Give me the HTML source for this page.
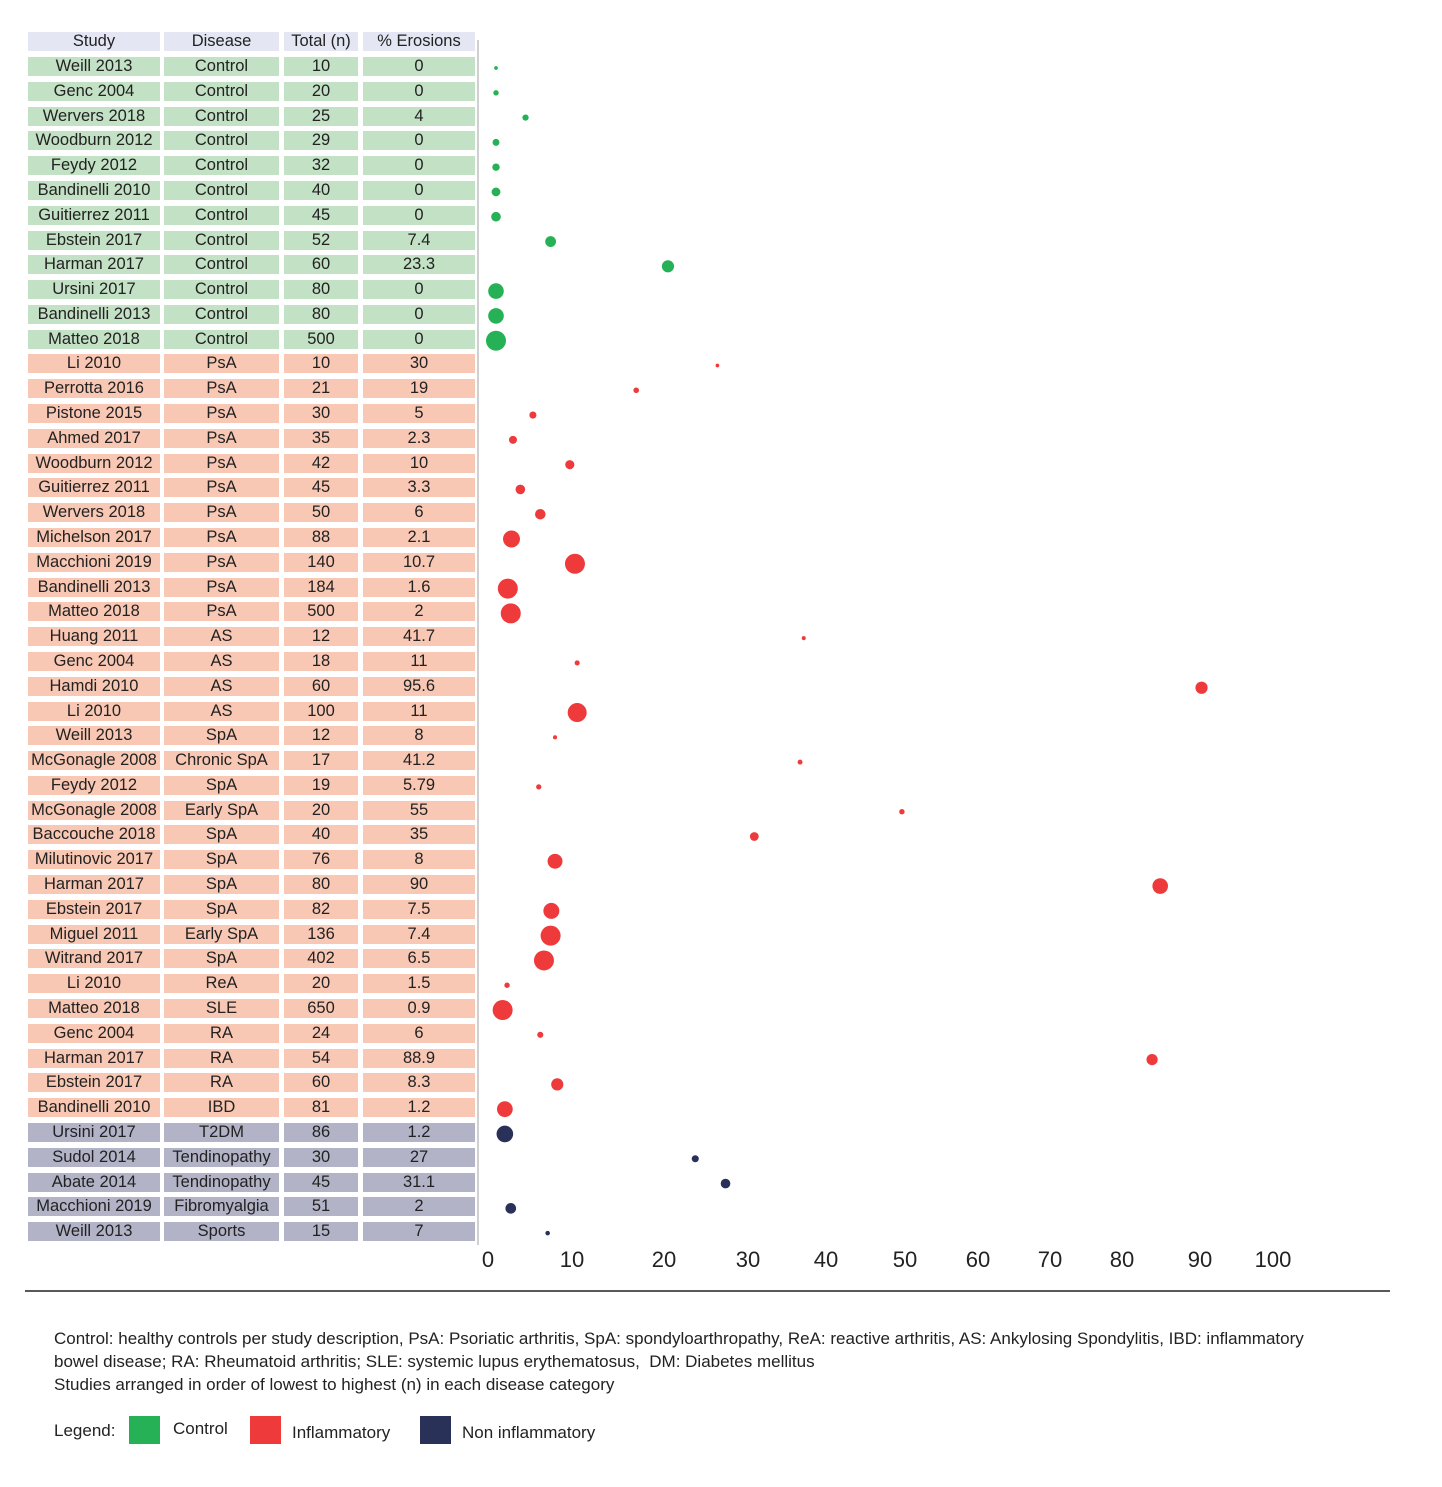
<!DOCTYPE html>
<html><head><meta charset="utf-8"><style>
body{margin:0;background:#fff;font-family:"Liberation Sans",sans-serif;}
#wrap{position:relative;width:1442px;height:1487px;overflow:hidden;}
.cell{position:absolute;height:19px;line-height:19px;text-align:center;font-size:16.5px;color:#222;white-space:nowrap;overflow:hidden;}
.tick{position:absolute;top:1247px;font-size:22px;color:#222;transform:translateX(-50%);}
.note{position:absolute;left:54px;font-size:17px;color:#222;}
</style></head><body>
<div id="wrap">
<svg id="plot" width="1442" height="1487" style="position:absolute;left:0;top:0">
<line x1="478" y1="40" x2="478" y2="1245" stroke="#d0d0d0" stroke-width="2"/>
<line x1="25" y1="1291" x2="1390" y2="1291" stroke="#222" stroke-width="1.5"/>
</svg>
<div class="note" style="top:1327px;width:1280px;line-height:23px">Control: healthy controls per study description, PsA: Psoriatic arthritis, SpA: spondyloarthropathy, ReA: reactive arthritis, AS: Ankylosing Spondylitis, IBD: inflammatory bowel disease; RA: Rheumatoid arthritis; SLE: systemic lupus erythematosus,&nbsp; DM: Diabetes mellitus<br>Studies arranged in order of lowest to highest (n) in each disease category</div>
<div>
<div class="note" style="top:1421px">Legend:</div>
<div style="position:absolute;left:129px;top:1416px;width:31px;height:28px;background:#27b156"></div>
<div class="note" style="left:173px;top:1419px">Control</div>
<div style="position:absolute;left:250px;top:1416px;width:31px;height:28px;background:#ee3a3a"></div>
<div class="note" style="left:292px;top:1423px">Inflammatory</div>
<div style="position:absolute;left:420px;top:1416px;width:31px;height:28px;background:#2a3158"></div>
<div class="note" style="left:462px;top:1423px">Non inflammatory</div>
</div>
</div>
<script>
const studies=["Weill 2013","Genc 2004","Wervers 2018","Woodburn 2012","Feydy 2012","Bandinelli 2010","Guitierrez 2011","Ebstein 2017","Harman 2017","Ursini 2017","Bandinelli 2013","Matteo 2018","Li 2010","Perrotta 2016","Pistone 2015","Ahmed 2017","Woodburn 2012","Guitierrez 2011","Wervers 2018","Michelson 2017","Macchioni 2019","Bandinelli 2013","Matteo 2018","Huang 2011","Genc 2004","Hamdi 2010","Li 2010","Weill 2013","McGonagle 2008","Feydy 2012","McGonagle 2008","Baccouche 2018","Milutinovic 2017","Harman 2017","Ebstein 2017","Miguel 2011","Witrand 2017","Li 2010","Matteo 2018","Genc 2004","Harman 2017","Ebstein 2017","Bandinelli 2010","Ursini 2017","Sudol 2014","Abate 2014","Macchioni 2019","Weill 2013"];
const diseases=["Control","Control","Control","Control","Control","Control","Control","Control","Control","Control","Control","Control","PsA","PsA","PsA","PsA","PsA","PsA","PsA","PsA","PsA","PsA","PsA","AS","AS","AS","AS","SpA","Chronic SpA","SpA","Early SpA","SpA","SpA","SpA","SpA","Early SpA","SpA","ReA","SLE","RA","RA","RA","IBD","T2DM","Tendinopathy","Tendinopathy","Fibromyalgia","Sports"];
const totals=[10,20,25,29,32,40,45,52,60,80,80,500,10,21,30,35,42,45,50,88,140,184,500,12,18,60,100,12,17,19,20,40,76,80,82,136,402,20,650,24,54,60,81,86,30,45,51,15];
const erosionLabels=["0","0","4","0","0","0","0","7.4","23.3","0","0","0","30","19","5","2.3","10","3.3","6","2.1","10.7","1.6","2","41.7","11","95.6","11","8","41.2","5.79","55","35","8","90","7.5","7.4","6.5","1.5","0.9","6","88.9","8.3","1.2","1.2","27","31.1","2","7"];
const erosions=erosionLabels.map(Number);
const groups=["C","C","C","C","C","C","C","C","C","C","C","C","I","I","I","I","I","I","I","I","I","I","I","I","I","I","I","I","I","I","I","I","I","I","I","I","I","I","I","I","I","I","I","N","N","N","N","N"];
const tickLabels=["0","10","20","30","40","50","60","70","80","90","100"];
const tickPos=[488,572,664,748,826,905,978,1050,1122,1200,1273];

const rowFill={C:"#c3e1c4",I:"#f9c8b4",N:"#b3b3c8"};
const dotFill={C:"#27b156",I:"#ee3a3a",N:"#2a3158"};
const xScale=v=>496+7.38*v;
const yScale=i=>66.5+i*24.79;
const rScale=n=>Math.min(10,1+n*0.085);
const cols=[[28,132],[164,115],[284,74],[363,112]];
const wrap=document.getElementById('wrap');
const svg=document.getElementById('plot');
function cell(txt,c,y,bg,name){
  const d=document.createElement('div');
  d.className='cell';
  d.style.left=cols[c][0]+'px';d.style.width=cols[c][1]+'px';d.style.top=(y-9.5)+'px';d.style.background=bg;
  d.textContent=txt;
  
  
  wrap.appendChild(d);
}
["Study","Disease","Total (n)","% Erosions"].forEach((h,c)=>cell(h,c,41.5,"#e4e6f3","header-"+c));
studies.forEach((s,i)=>{
  const y=yScale(i),bg=rowFill[groups[i]];
  cell(s,0,y,bg,'study-cell');
  cell(diseases[i],1,y,bg,'disease-cell');
  cell(String(totals[i]),2,y,bg,'total-cell');
  cell(erosionLabels[i],3,y,bg,'erosion-cell');
  const c=document.createElementNS('http://www.w3.org/2000/svg','circle');
  c.setAttribute('cx',xScale(erosions[i]));
  c.setAttribute('cy',y+1.5);
  c.setAttribute('r',rScale(totals[i]));
  c.setAttribute('fill',dotFill[groups[i]]);
  
  
  svg.appendChild(c);
});
tickLabels.forEach((t,i)=>{
  const d=document.createElement('div');
  d.className='tick';d.style.left=tickPos[i]+'px';d.textContent=t;
  
  
  wrap.appendChild(d);
});
</script>
</body></html>
